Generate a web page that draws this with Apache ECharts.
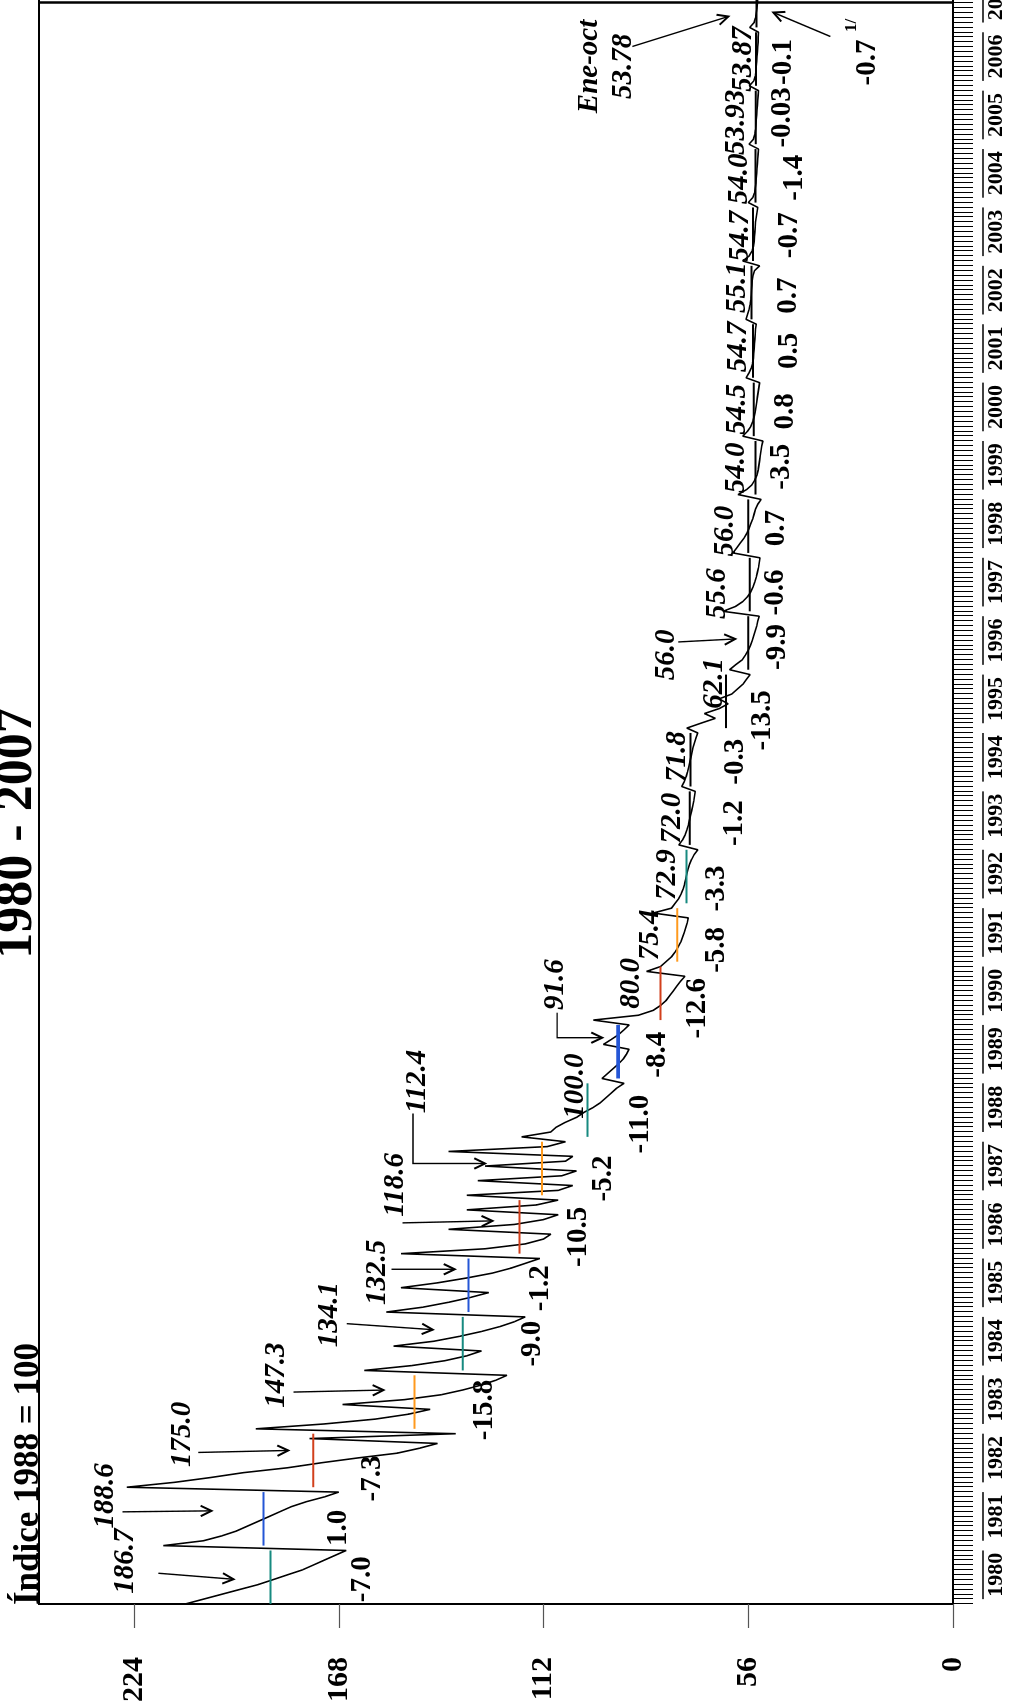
<!DOCTYPE html>
<html>
<head>
<meta charset="utf-8">
<script src="https://cdn.jsdelivr.net/npm/echarts@6/dist/echarts.min.js"></script>
<style>
  html, body { margin: 0; padding: 0; background: #fff; overflow: hidden; width: 1011px; height: 1706px; }
  /* the chart is laid out in landscape and turned a quarter turn to stand on the page */
  #turn { position: absolute; left: 0; top: 0; width: 1706px; height: 1011px; overflow: hidden;
          transform-origin: 0 0; transform: translateY(1706px) rotate(-90deg); }
  /* wider than the page so the last months run past the cut edge */
  #chart { width: 1760px; height: 1011px; }
</style>
</head>
<body>
<div id="turn"><div id="chart"></div></div>
<script>
// Year categories
const years = ['1980','1981','1982','1983','1984','1985','1986','1987','1988','1989',
  '1990','1991','1992','1993','1994','1995','1996','1997','1998','1999',
  '2000','2001','2002','2003','2004','2005','2006','2007'];

// Monthly index (1988 = 100), one row per year
const idx1980s = [
  [210,205,200,195,190,186,182,178,175,172,169,166],
  [216,205,200,196,193,190,187,184,181,177,172,168],
  [226,213,203,194,182,173,163,152,146,141,176,136],
  [190.7,172,158,149,143,167,150,140,134,129,125,122],
  [161,148,139,133,129,153,142,135,129,124,120,117],
  [155,145,138,132,127,151,141,133,126,121,117,113],
  [151,128,117,112,110,138,120,112,108,133,114,108],
  [133,108,104,130,107,103,128,106,104,138,111,106],
  [118,110,108.5,106,103,101,98.5,96.5,95,93.5,92,90],
  [96,94.5,93,91.5,90.2,89.3,88.6,95.6,93.5,91.5,90,88.6]
];
const idx1990s = [
  [98.4,86,82,80,78.5,77.5,76.5,75.5,74.5,73.3,83.8,80],
  [78.5,77,76,75.2,74.5,74,73.5,73.1,72.7,72.4,82,77],
  [76,75,74.3,73.8,73.4,73.1,72.8,72.5,72.1,71.5,70.8,69.8],
  [75,74,73.3,72.8,72.4,72.1,71.8,71.5,71.2,70.9,70.7,70.5],
  [74.2,73.5,73,72.6,72.3,72,71.7,71.4,71.1,70.7,70.3,69.8],
  [72.8,69,65,68,64,61.5,64,60.5,59,57.5,56.5,55.5],
  [61.1,59.5,57.7,56.8,56,55.4,54.9,54.5,54.1,53.7,53.4,53],
  [62.9,59.5,57.5,56.2,55.3,54.7,54.2,53.8,53.5,53.2,53,52.8],
  [60.2,59.2,58.2,57.2,56.4,55.8,55.3,54.8,54.4,54,53.4,52.5],
  [58.8,56.5,55,54.2,53.6,53.3,53.1,52.9,52.7,52.5,52.3,52]
];
const idx2000s = [
  [57.5,56.2,55.3,54.8,54.4,54.1,53.9,53.7,53.5,53.3,53.1,52.9],
  [56.6,55.8,55.2,54.8,54.6,54.5,54.4,54.3,54.2,54.1,54,53.8],
  [56.6,56.2,55.8,55.5,55.3,55.2,55.1,55,54.9,54.7,54.3,52.9],
  [57.5,55.8,55,54.6,54.4,54.3,54.2,54.1,54,53.8,53.6,53.4],
  [56,54.8,54.3,54.1,53.9,53.8,53.7,53.6,53.5,53.4,53.3,53.2],
  [55.8,54.6,54.2,54,53.9,53.8,53.7,53.6,53.5,53.4,53.3,53.2],
  [55.7,54.5,54.1,53.9,53.8,53.7,53.6,53.5,53.4,53.3,53.3,53.2],
  [55.6,54.4,54,53.8,53.6,53.5,53.4,53.3,53.2,53.0]
];

// Annual averages and their printed form
const annualAvg = [186.7,188.6,175.0,147.3,134.1,132.5,118.6,112.4,100.0,91.6,
  80.0,75.4,72.9,72.0,71.8,62.1,56.0,55.6,56.0,54.0,
  54.5,54.7,55.1,54.7,54.0,53.93,53.87,53.78];
const avgText = ['186.7','188.6','175.0','147.3','134.1','132.5','118.6','112.4','100.0','91.6',
  '80.0','75.4','72.9','72.0','71.8','62.1','56.0','55.6','56.0','54.0',
  '54.5','54.7','55.1','54.7','54.0','53.93','53.87','Ene-oct\n53.78'];

// Annual % change
const annualChange = ['-7.0','1.0','-7.3','-15.8','-9.0','-1.2','-10.5','-5.2','-11.0','-8.4',
  '-12.6','-5.8','-3.3','-1.2','-0.3','-13.5','-9.9','-0.6','0.7','-3.5',
  '0.8','0.5','0.7','-0.7','-1.4','-0.03','-0.1','-0.7'];

// Value axis ticks
const valueTicks = [0, 56, 112, 168, 224];

// ---- styling / layout ----
const SERIF = '"Liberation Serif", "Times New Roman", serif';
const FONT_AVG = 'italic bold 29px ' + SERIF;
const FONT_CHG = 'bold 29px ' + SERIF;
const cycle = ['#178a80', '#2456d6', '#d2401c', '#ff9a1e'];
const segColor = annualAvg.map((v, k) => k <= 12 ? cycle[k % 4] : '#000');
const segWidth = annualAvg.map((v, k) => k === 9 ? 3.6 : 2);

// label offsets (px) from the middle of each annual-average segment
const avgLabelPos = [[16,-145],[23,-158],[26,-131],[27,-138],[29,-133],[13,-91],[42,-124],[87,-125],
  [24,-12],[67,-63],[10,-29],[0,-27],[2,-19],[0,-17],[3,-13],[18,-11],[-12,-82],[-9,-32],[-5,-23],
  [0,-19],[0,-16],[4,-15],[5,-14],[-2,-13],[-3,-16],[-5,-19],[0,-13],[-61,-150]];
const chgLabelPos = [[-2,92],[-9,75],[-18,59],[-8,70],[0,70],[-3,72],[-10,59],[-10,61],[-14,53],
  [-3,39],[-15,37],[-15,39],[-12,30],[-5,45],[-2,45],[-19,37],[-4,29],[-8,26],[-2,28],[1,26],
  [-2,32],[0,36],[-3,37],[-1,36],[-2,39],[0,27],[-3,27],[-57,111]];
// leader arrows, as offset polylines from the same anchor
const arrowPaths = {
  0: [[4,-112],[-2,-37]], 1: [[7,-141],[8,-52]], 2: [[8,-115],[10,-25]], 3: [[10,-121],[12,-31]],
  4: [[20,-116],[14,-30]], 5: [[16,-77],[16,-14]], 6: [[4,-117],[6,-27]],
  7: [[55,-129],[5,-129],[5,-57]], 9: [[39,-61],[14,-61],[14,-16]],
  16: [[1,-70],[4,-13]], 27: [[-41,-124],[-11,-28]]
};
const chgArrow2007 = [[-31,74],[-7,17]];

// ---- derived series ----
const indexValues = [].concat(...idx1980s, ...idx1990s, ...idx2000s);
const monthCats = [];
years.forEach(y => { for (let m = 1; m <= 12; m++) monthCats.push(y + '-' + (m < 10 ? '0' : '') + m); });
monthCats.push('2008-01');
const annualData = annualAvg.map((v, k) => [k * 12, v, k]);

function textEl(x, y, text, font, align) {
  return { type: 'text', x: x, y: y, z2: 10,
    style: { text: text, font: font, fill: '#000', align: align || 'center', verticalAlign: 'middle',
             textAlign: align || 'center', textVerticalAlign: 'middle', lineHeight: 34 } };
}
function arrowEls(ax, ay, path) {
  const pts = path.map(p => [ax + p[0], ay + p[1]]);
  const n = pts.length, e = pts[n - 1], s = pts[n - 2];
  const ang = Math.atan2(e[1] - s[1], e[0] - s[0]);
  const L = 12, w = 0.45;
  const h1 = [e[0] - L * Math.cos(ang - w), e[1] - L * Math.sin(ang - w)];
  const h2 = [e[0] - L * Math.cos(ang + w), e[1] - L * Math.sin(ang + w)];
  return [
    { type: 'polyline', shape: { points: pts }, style: { stroke: '#000', lineWidth: 1.4, fill: null } },
    { type: 'polyline', shape: { points: [h1, e, h2] }, style: { stroke: '#000', lineWidth: 2, fill: null } }
  ];
}

function drawAnnual(params, api) {
  const k = api.value(2), avg = api.value(1);
  const first = k * 12;
  const last = Math.min(first + 11, indexValues.length - 1);
  const a = api.coord([first, avg]);
  const b = api.coord([last, avg]);
  const ax = (a[0] + b[0]) / 2, ay = a[1];
  const cs = params.coordSys;
  const kids = [];
  // annual average segment
  kids.push({ type: 'line', shape: { x1: a[0], y1: ay, x2: b[0], y2: ay },
              style: { stroke: segColor[k], lineWidth: segWidth[k] } });
  // year bracket under the month ticks
  const bx1 = api.coord([first + 1.0, 0])[0], bx2 = api.coord([first + 11.0, 0])[0];
  const by = cs.y + cs.height + 30;
  kids.push({ type: 'line', shape: { x1: bx1, y1: by, x2: bx2, y2: by }, style: { stroke: '#000', lineWidth: 1.3 } });
  // average label
  const lp = avgLabelPos[k];
  kids.push(textEl(ax + lp[0], ay + lp[1], avgText[k], FONT_AVG));
  // % change label
  const cp = chgLabelPos[k];
  kids.push(textEl(ax + cp[0], ay + cp[1], annualChange[k], FONT_CHG));
  if (k === years.length - 1) {
    kids.push(textEl(ax + cp[0] + 37, ay + cp[1] - 16, '1/', 'bold 17px ' + SERIF));
    kids.push(...arrowEls(ax, ay, chgArrow2007));
  }
  if (arrowPaths[k]) kids.push(...arrowEls(ax, ay, arrowPaths[k]));
  return { type: 'group', children: kids };
}

const chart = echarts.init(document.getElementById('chart'), null, { renderer: 'canvas' });
chart.setOption({
  animation: false,
  backgroundColor: '#fff',
  grid: { left: 102, top: 39, width: 1635, height: 914, show: true, borderColor: '#000', borderWidth: 2,
          backgroundColor: 'transparent' },
  xAxis: [
    { type: 'category', data: monthCats, boundaryGap: false, position: 'bottom',
      axisLine: { lineStyle: { color: '#000', width: 2 } },
      axisTick: { interval: 0, length: 20, lineStyle: { color: '#000', width: 1 } },
      axisLabel: { show: false }, splitLine: { show: false } },
    { type: 'category', data: years, boundaryGap: true, position: 'bottom',
      axisLine: { show: false }, axisTick: { show: false }, splitLine: { show: false },
      axisLabel: { interval: 0, margin: 32, color: '#000', fontFamily: SERIF, fontWeight: 'bold', fontSize: 22 } }
  ],
  yAxis: {
    type: 'value', min: 0, max: 250, interval: 56,
    axisLine: { show: true, lineStyle: { color: '#000', width: 2 } },
    axisTick: { show: true, length: 24, customValues: valueTicks, lineStyle: { color: '#555', width: 1.2 } },
    axisLabel: { customValues: valueTicks, margin: 53, color: '#000',
                 fontFamily: SERIF, fontWeight: 'bold', fontSize: 30 },
    splitLine: { show: false }
  },
  graphic: [
    { type: 'line', shape: { x1: 1703.5, y1: 39, x2: 1703.5, y2: 953 }, style: { stroke: '#000', lineWidth: 2.5 } },
    { type: 'text', x: 101, y: 46, style: { text: 'Índice 1988 = 100', font: 'bold 35px ' + SERIF, fill: '#000',
        align: 'left', verticalAlign: 'bottom', textAlign: 'left', textVerticalAlign: 'bottom' } },
    { type: 'text', x: 873, y: 44, style: { text: '1980 - 2007', font: 'bold 52px ' + SERIF, fill: '#000',
        align: 'center', verticalAlign: 'bottom', textAlign: 'center', textVerticalAlign: 'bottom' } }
  ],
  series: [
    { name: 'Índice', type: 'line', xAxisIndex: 0, data: indexValues, symbol: 'none', z: 3,
      lineStyle: { color: '#000', width: 1.6 } },
    { name: 'Promedio anual', type: 'custom', xAxisIndex: 0, data: annualData, encode: { x: 0, y: 1 },
      renderItem: drawAnnual, clip: false, z: 4 }
  ]
});
</script>
</body>
</html>
